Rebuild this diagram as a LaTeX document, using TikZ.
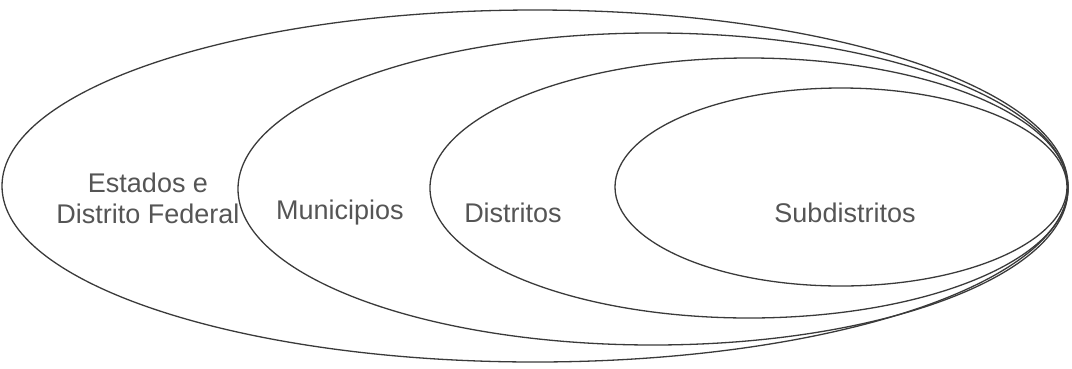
\documentclass[tikz,border=0pt]{standalone}
\usepackage{fontspec}
\setmainfont{Liberation Sans}
\usepackage{xcolor}
\definecolor{rim}{HTML}{3A3A3A}
\definecolor{txt}{HTML}{555555}
\tikzset{
  zone/.style={draw=rim, line width=1.3pt},
  zonelabel/.style={text=txt, font=\fontsize{27}{31}\selectfont, align=center, inner sep=0pt}
}
\begin{document}
\begin{tikzpicture}[x=1pt, y=1pt]
        \useasboundingbox (0,0) rectangle (1072,-368);
        % nested zones, all touching at the right
        \draw[zone] (535,-186) ellipse [x radius=533, y radius=176];
        \draw[zone] (653,-189) ellipse [x radius=415, y radius=156];
        \draw[zone] (749,-188) ellipse [x radius=319, y radius=130];
        \draw[zone] (841,-187) ellipse [x radius=226, y radius=99];
        \node[zonelabel] (estados) at (148,-198) {Estados e\\Distrito Federal};
        \node[zonelabel] (municipios) at (340,-213) {Municipios};
        \node[zonelabel] (distritos) at (513,-213) {Distritos};
        \node[zonelabel] (subdistritos) at (845,-213) {Subdistritos};
    \end{tikzpicture}
\end{document}
